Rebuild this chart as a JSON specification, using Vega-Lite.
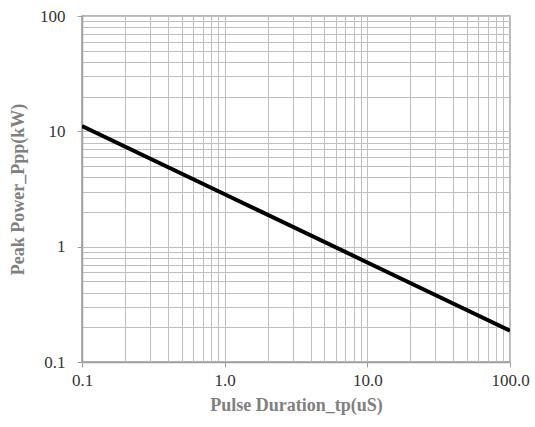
{
  "$schema": "https://vega.github.io/schema/vega-lite/v6.json",
  "width": 428,
  "height": 346,
  "autosize": "none",
  "padding": {"left": 82, "top": 16, "right": 25, "bottom": 65},
  "background": "white",
  "config": {
    "view": {"stroke": "#a0a0a0", "strokeWidth": 1.5},
    "axis": {
      "labelFont": "Liberation Serif",
      "titleFont": "Liberation Serif",
      "labelColor": "#333333",
      "titleColor": "#808080",
      "labelFontSize": 17,
      "titleFontSize": 18,
      "titleFontWeight": "bold",
      "domainColor": "#a0a0a0",
      "domainWidth": 1.5,
      "tickColor": "#a0a0a0",
      "gridColor": "#c0c0c0",
      "gridWidth": 1,
      "gridOpacity": 1
    }
  },
  "data": {
    "values": [
      {"tp": 0.1, "ppp": 11.1},
      {"tp": 1, "ppp": 2.85},
      {"tp": 10, "ppp": 0.73},
      {"tp": 100, "ppp": 0.187}
    ]
  },
  "mark": {"type": "line", "color": "black", "strokeWidth": 4, "clip": true},
  "encoding": {
    "x": {
      "field": "tp",
      "type": "quantitative",
      "scale": {"type": "log", "domain": [0.1, 100], "nice": false},
      "axis": {
        "title": "Pulse Duration_tp(uS)",
        "values": [0.1,0.2,0.3,0.4,0.5,0.6,0.7,0.8,0.9,1,2,3,4,5,6,7,8,9,10,20,30,40,50,60,70,80,90,100],
        "labelExpr": "datum.value == 0.1 ? '0.1' : (datum.value == 1 ? '1.0' : (datum.value == 10 ? '10.0' : (datum.value == 100 ? '100.0' : '')))",
        "tickOpacity": {"condition": {"test": "datum.value == 0.1 || datum.value == 1 || datum.value == 10 || datum.value == 100", "value": 1}, "value": 0},
        "tickSize": 5,
        "labelPadding": 5,
        "titlePadding": 8,
        "labelFlush": false,
        "labelOverlap": false
      }
    },
    "y": {
      "field": "ppp",
      "type": "quantitative",
      "scale": {"type": "log", "domain": [0.1, 100], "nice": false},
      "axis": {
        "title": "Peak Power_Ppp(kW)",
        "values": [0.1,0.2,0.3,0.4,0.5,0.6,0.7,0.8,0.9,1,2,3,4,5,6,7,8,9,10,20,30,40,50,60,70,80,90,100],
        "labelExpr": "datum.value == 0.1 ? '0.1' : (datum.value == 1 ? '1' : (datum.value == 10 ? '10' : (datum.value == 100 ? '100' : '')))",
        "tickOpacity": {"condition": {"test": "datum.value == 0.1 || datum.value == 1 || datum.value == 10 || datum.value == 100", "value": 1}, "value": 0},
        "tickSize": 5,
        "labelPadding": 12,
        "titlePadding": 12,
        "labelFlush": false,
        "labelOverlap": false
      }
    }
  }
}
